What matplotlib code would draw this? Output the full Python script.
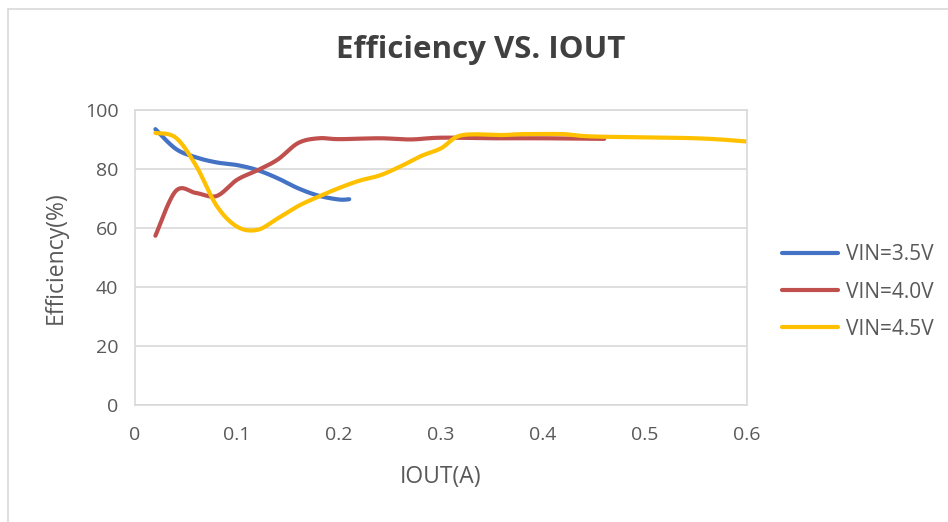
import numpy as np
import matplotlib.pyplot as plt
from matplotlib.lines import Line2D

plt.rcParams['font.family'] = ['Open Sans', 'DejaVu Sans']

# data
iout_35 = [0.02, 0.04, 0.06, 0.08, 0.10, 0.12, 0.14, 0.16, 0.18, 0.20, 0.21]
eff_35 = [93.5, 86.8, 83.9, 82.2, 81.3, 79.6, 76.8, 73.4, 70.9, 69.6, 69.7]

iout_40 = [0.02, 0.04, 0.06, 0.08, 0.10, 0.12, 0.14, 0.16, 0.18, 0.20,
           0.24, 0.27, 0.30, 0.35, 0.40, 0.46]
eff_40 = [57.3, 72.5, 71.8, 70.8, 76.3, 79.5, 83.2, 88.8, 90.4, 90.1,
          90.4, 90.0, 90.6, 90.4, 90.4, 90.2]

iout_45 = [0.02, 0.04, 0.06, 0.08, 0.10, 0.12, 0.14, 0.16, 0.18, 0.20,
           0.22, 0.24, 0.26, 0.28, 0.30, 0.32, 0.36, 0.38, 0.42, 0.45,
           0.55, 0.60]
eff_45 = [92.2, 90.6, 81.0, 67.5, 60.4, 59.3, 63.2, 67.4, 70.6, 73.5,
          76.0, 77.8, 80.8, 84.3, 87.0, 91.4, 91.5, 91.8, 91.8, 91.0,
          90.4, 89.3]

series = [
    ("VIN=3.5V", iout_35, eff_35, "#4472C4"),
    ("VIN=4.0V", iout_40, eff_40, "#C0504D"),
    ("VIN=4.5V", iout_45, eff_45, "#FFC000"),
]

x_ticks = [0, 0.1, 0.2, 0.3, 0.4, 0.5, 0.6]
x_labels = ["0", "0.1", "0.2", "0.3", "0.4", "0.5", "0.6"]
y_ticks = [0, 20, 40, 60, 80, 100]


def smooth(xs, ys, n=30):
    # Catmull-Rom style smoothing like Excel's smoothed line
    xs = np.asarray(xs, float)
    ys = np.asarray(ys, float)
    px = np.concatenate([[xs[0]], xs, [xs[-1]]])
    py = np.concatenate([[ys[0]], ys, [ys[-1]]])
    outx, outy = [], []
    t = np.linspace(0, 1, n)
    for i in range(1, len(px) - 2):
        p0 = np.array([px[i - 1], py[i - 1]])
        p1 = np.array([px[i], py[i]])
        p2 = np.array([px[i + 1], py[i + 1]])
        p3 = np.array([px[i + 2], py[i + 2]])
        c1 = p1 + (p2 - p0) / 6
        c2 = p2 - (p3 - p1) / 6
        b = ((1 - t) ** 3)[:, None] * p1 + (3 * (1 - t) ** 2 * t)[:, None] * c1 \
            + (3 * (1 - t) * t ** 2)[:, None] * c2 + (t ** 3)[:, None] * p2
        outx.extend(b[:, 0])
        outy.extend(b[:, 1])
    return outx, outy


fig = plt.figure(figsize=(9.48, 5.22), dpi=100)
ax = fig.add_axes([135 / 948, 1 - 404.5 / 522, 612 / 948, 294.5 / 522])

grid_c = "#d9d9d9"
text_c = "#595959"

for name, xs, ys, col in series:
    sx, sy = smooth(xs, ys)
    ax.plot(sx, sy, color=col, lw=3, solid_capstyle="round", label=name)

ax.set_xlim(0, 0.6)
ax.set_ylim(0, 100)
ax.set_xticks(x_ticks)
ax.set_xticklabels(x_labels)
ax.set_yticks(y_ticks)
ax.grid(axis="y", color=grid_c, lw=1.2)
ax.set_axisbelow(True)
for s in ax.spines.values():
    s.set_color(grid_c)
    s.set_linewidth(1.2)
ax.tick_params(length=0, labelsize=14, colors=text_c)
ax.tick_params(axis="x", pad=15.5)
ax.tick_params(axis="y", pad=12)

ax.set_xlabel("IOUT(A)", fontsize=16.5, color=text_c, labelpad=15)
ax.set_ylabel("Efficiency(%)", fontsize=16.5, color=text_c, labelpad=12)

fig.text(481 / 948, 1 - 50 / 522, "Efficiency VS. IOUT", ha="center",
         va="center", fontsize=22.5, fontweight="bold", color="#404040")

ax.legend(loc="center left", bbox_to_anchor=(1 + 35 / 612, 0.382),
          frameon=False, borderaxespad=0, borderpad=0,
          fontsize=15, labelcolor=text_c, handlelength=2.7,
          handletextpad=0.35, labelspacing=0.78)

# outer chart border
fig.add_artist(Line2D([7.5 / 948, 7.5 / 948], [0, 1 - 9 / 522],
                      transform=fig.transFigure, color=grid_c, lw=1.2))
fig.add_artist(Line2D([7.5 / 948, 1], [1 - 9 / 522, 1 - 9 / 522],
                      transform=fig.transFigure, color=grid_c, lw=1.2))

fig.savefig("out.png", dpi=100)
